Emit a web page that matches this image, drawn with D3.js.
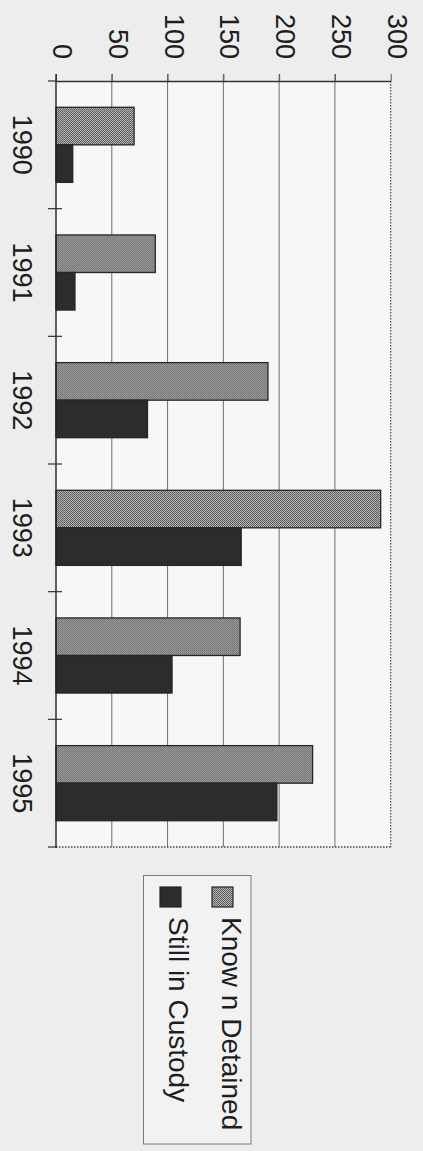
<!DOCTYPE html>
<html>
<head>
<meta charset="utf-8">
<script src="https://cdn.jsdelivr.net/npm/d3@7"></script>
<style>
  html, body { margin: 0; padding: 0; background: #ededed; }
  svg { display: block; }
  text { font-family: "Liberation Sans", Arial, sans-serif; fill: #1e1e1e; }
</style>
</head>
<body>
<svg id="chart" width="423" height="1151"></svg>
<script>
const categories = ["1990", "1991", "1992", "1993", "1994", "1995"];
const seriesNames = ["Know n Detained", "Still in Custody"];
const knownDetained = [70, 89, 190, 291, 165, 230];
const stillInCustody = [15, 17, 82, 166, 104, 198];
const valueTicks = [0, 50, 100, 150, 200, 250, 300];

const svg = d3.select("#chart");

// pattern for the stippled grey fill
const defs = svg.append("defs");
const pat = defs.append("pattern").attr("id", "stipple")
  .attr("width", 2).attr("height", 2).attr("patternUnits", "userSpaceOnUse");
pat.append("rect").attr("width", 2).attr("height", 2).attr("fill", "#b4b4b4");
pat.append("rect").attr("x", 0).attr("y", 0).attr("width", 1).attr("height", 1).attr("fill", "#555");
pat.append("rect").attr("x", 1).attr("y", 1).attr("width", 1).attr("height", 1).attr("fill", "#646464");

const plot = { left: 56, right: 390.7, top: 81, bottom: 847 };

// value scale runs horizontally (chart rotated 90° clockwise)
const x = d3.scaleLinear().domain([0, 300]).range([plot.left, plot.right]);
// category scale runs vertically
const y = d3.scaleBand().domain(categories).range([plot.top, plot.bottom]).padding(0);
const ySub = d3.scaleBand().domain(seriesNames).range([0, y.bandwidth()])
  .paddingInner(0).paddingOuter(0.70);

// plot background
svg.append("rect").attr("x", plot.left).attr("y", plot.top)
  .attr("width", plot.right - plot.left).attr("height", plot.bottom - plot.top)
  .attr("fill", "#f7f7f7");

// gridlines (vertical) with small outward ticks above the top axis
svg.append("g").selectAll("line").data(valueTicks.filter(v => v > 0 && v < 300)).join("line")
  .attr("x1", d => x(d)).attr("x2", d => x(d))
  .attr("y1", plot.top - 7).attr("y2", plot.bottom)
  .attr("stroke", "#6e6e6e").attr("stroke-width", 1);

// value axis (top)
const vAxis = d3.axisTop(x).tickValues(valueTicks).tickSize(7).tickSizeOuter(0);
const vg = svg.append("g").attr("transform", `translate(0,${plot.top})`).call(vAxis);
vg.select(".domain").attr("stroke", "#333").attr("stroke-width", 1.3);
vg.selectAll(".tick line").attr("stroke", "#555");
vg.selectAll(".tick text")
  .attr("font-size", 27)
  .attr("text-anchor", "end")
  .attr("transform", "translate(6,-22) rotate(90)")
  .attr("x", 0).attr("y", 0).attr("dy", "0.35em")
  .style("fill", "#1e1e1e");

// bars
const data = categories.map((c, i) => ({ c, vals: [knownDetained[i], stillInCustody[i]] }));
const fills = ["url(#stipple)", "#2c2c2c"];
const groups = svg.append("g").selectAll("g").data(data).join("g")
  .attr("transform", d => `translate(0,${y(d.c)})`);
groups.selectAll("rect").data(d => d.vals.map((v, k) => ({ v, k }))).join("rect")
  .attr("x", x(0))
  .attr("y", d => ySub(seriesNames[d.k]))
  .attr("width", d => x(d.v) - x(0))
  .attr("height", ySub.bandwidth())
  .attr("fill", d => fills[d.k])
  .attr("stroke", "#262626").attr("stroke-width", 1.3);

// right and bottom dotted borders
svg.append("line").attr("x1", plot.right).attr("x2", plot.right)
  .attr("y1", plot.top).attr("y2", plot.bottom)
  .attr("stroke", "#444").attr("stroke-width", 1.2).attr("stroke-dasharray", "1.5,1.5");
svg.append("line").attr("x1", plot.left).attr("x2", plot.right)
  .attr("y1", plot.bottom).attr("y2", plot.bottom)
  .attr("stroke", "#444").attr("stroke-width", 1.3).attr("stroke-dasharray", "1.5,1.5");

// category axis (left), ticks at band boundaries, crossing the axis
const boundaries = categories.map(c => y(c)).concat([y(categories[categories.length - 1]) + y.bandwidth()]);
svg.append("line").attr("x1", plot.left).attr("x2", plot.left)
  .attr("y1", plot.top - 7).attr("y2", plot.bottom + 1)
  .attr("stroke", "#222").attr("stroke-width", 1.4);
svg.append("g").selectAll("line").data(boundaries).join("line")
  .attr("x1", plot.left - 8).attr("x2", d => (d === plot.top || Math.abs(d - plot.bottom) < 1) ? plot.left : plot.left + 6)
  .attr("y1", d => d).attr("y2", d => d)
  .attr("stroke", "#333").attr("stroke-width", 1.2);

// category labels
svg.append("g").selectAll("text").data(categories).join("text")
  .attr("transform", d => `translate(22.5,${y(d) + y.bandwidth() / 2}) rotate(90)`)
  .attr("text-anchor", "middle").attr("dy", "0.35em")
  .attr("font-size", 27)
  .text(d => d);

// legend
const lg = svg.append("g");
lg.append("rect").attr("x", 143.5).attr("y", 875.5).attr("width", 107.5).attr("height", 268.5)
  .attr("fill", "#f2f2f2").attr("stroke", "#7a7a7a").attr("stroke-width", 1);
const legendItems = [
  { name: seriesNames[0], fill: fills[0], sx: 212, base: 221.5 },
  { name: seriesNames[1], fill: fills[1], sx: 160, base: 168.5 }
];
legendItems.forEach(it => {
  lg.append("rect").attr("x", it.sx).attr("y", 887).attr("width", 21).attr("height", 20)
    .attr("fill", it.fill).attr("stroke", "#262626").attr("stroke-width", 1.2);
  lg.append("text")
    .attr("transform", `translate(${it.base},917) rotate(90)`)
    .attr("text-anchor", "start")
    .attr("font-size", 28)
    .text(it.name);
});
</script>
</body>
</html>
